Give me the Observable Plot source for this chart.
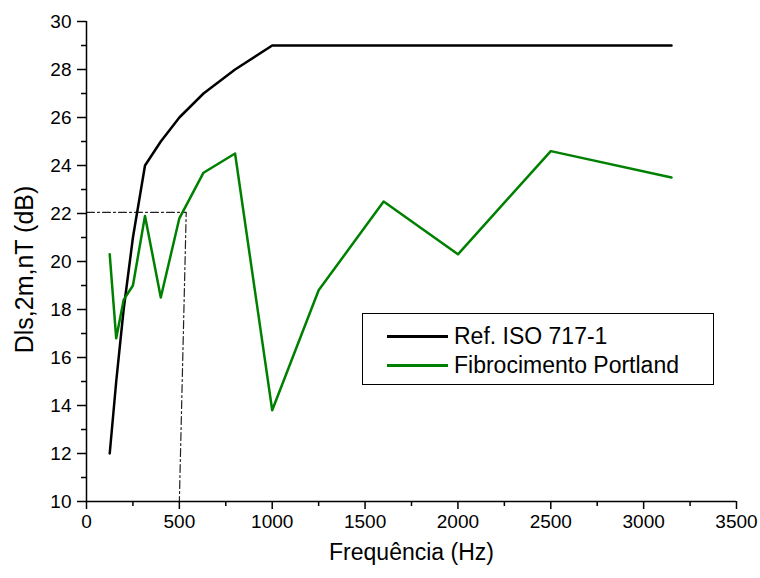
<!DOCTYPE html>
<html><head><meta charset="utf-8">
<script src="https://cdn.jsdelivr.net/npm/d3@7"></script>
<script src="https://cdn.jsdelivr.net/npm/@observablehq/plot@0.6"></script>
<style>
body{margin:0;background:#fff;font-family:"Liberation Sans",Arial,sans-serif}
#wrap{position:relative;width:760px;height:578px}
#legend{position:absolute;left:362px;top:313px;width:350px;height:70px;border:1px solid #000;background:#fff;font-size:23px;color:#000}
.row{position:absolute;left:0;height:28px;line-height:28px}
.sw{position:absolute;left:24px;width:61px;top:13px;height:2.5px}
.lab{position:absolute;left:91px;top:0;white-space:nowrap}
</style>
</head><body><div id="wrap"></div>
<script>
const freqs = [125,160,200,250,315,400,500,630,800,1000,1250,1600,2000,2500,3150];
const refISO = [12,15,18,21,24,25,26,27,28,29,29,29,29,29,29];
const fibro = [20.3,16.8,18.4,19.0,21.9,18.5,21.8,23.7,24.5,13.8,18.8,22.5,20.3,24.6,23.5];
const guideX = [0,537,500];
const guideY = [22.05,22.05,10];
const xTicks = [0,500,1000,1500,2000,2500,3000,3500];
const xMinor = [250,750,1250,1750,2250,2750,3250];
const yTicks = [10,12,14,16,18,20,22,24,26,28,30];
const yMinor = [11,13,15,17,19,21,23,25,27,29];
const seriesNames = ["Ref. ISO 717-1","Fibrocimento Portland"];
const seriesColors = ["#000000","#008000"];

const refData = freqs.map((f,i)=>({f, v: refISO[i]}));
const fibData = freqs.map((f,i)=>({f, v: fibro[i]}));
const guide = guideX.map((x,i)=>({x, y: guideY[i]}));

const chart = Plot.plot({
  width: 760, height: 578,
  marginLeft: 86, marginRight: 24, marginTop: 21, marginBottom: 77,
  style: {fontFamily: '"Liberation Sans", Arial, sans-serif', color: "#000", background: "#fff"},
  x: {domain: [0,3500]},
  y: {domain: [10,30]},
  marks: [
    Plot.line(guide, {x:"x", y:"y", stroke:"#222", strokeWidth:1.2, strokeDasharray:"8,3,2,3"}),
    Plot.line(refData, {x:"f", y:"v", stroke: seriesColors[0], strokeWidth:2.5}),
    Plot.line(fibData, {x:"f", y:"v", stroke: seriesColors[1], strokeWidth:2.5}),
    Plot.axisX({ticks: xTicks, tickSize: 8, tickPadding: 5, fontSize: 19, strokeWidth: 1.5, label: null, tickFormat: d => String(d)}),
    Plot.axisX({ticks: xMinor, tickSize: 5, strokeWidth: 1.5, text: null, label: null}),
    Plot.axisY({ticks: yTicks, tickSize: 9, tickPadding: 6, fontSize: 19, strokeWidth: 1.5, label: null, tickFormat: d => String(d)}),
    Plot.axisY({ticks: yMinor, tickSize: 5, strokeWidth: 1.5, text: null, label: null}),
    Plot.ruleX([0], {strokeWidth: 1.5}),
    Plot.ruleY([10], {strokeWidth: 1.5}),
    Plot.text(["Frequência (Hz)"], {frameAnchor: "bottom", dy: 51, fontSize: 23, lineAnchor: "middle"}),
    Plot.text(["Dls,2m,nT (dB)"], {frameAnchor: "left", dx: -62, dy: 8, rotate: -90, fontSize: 25, textAnchor: "middle", lineAnchor: "middle"})
  ]
});
const wrap = document.getElementById("wrap");
wrap.appendChild(chart);

const legend = document.createElement("div");
legend.id = "legend";
seriesNames.forEach((name,i)=>{
  const row = document.createElement("div");
  row.className = "row";
  row.style.top = (8 + i*29) + "px";
  row.style.width = "100%";
  const sw = document.createElement("div");
  sw.className = "sw";
  sw.style.background = seriesColors[i];
  const lab = document.createElement("div");
  lab.className = "lab";
  lab.textContent = name;
  row.appendChild(sw); row.appendChild(lab);
  legend.appendChild(row);
});
wrap.appendChild(legend);
</script>
</body></html>
